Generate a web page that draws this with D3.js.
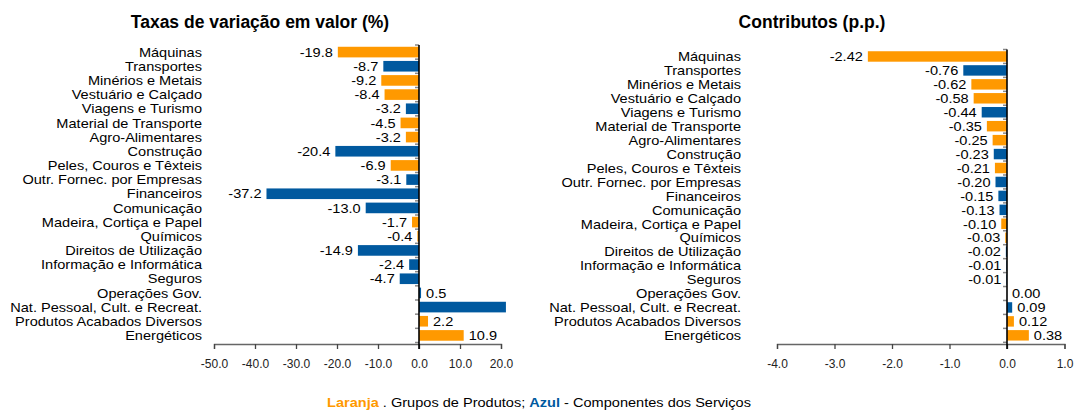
<!DOCTYPE html>
<html><head><meta charset="utf-8">
<script src="https://cdn.jsdelivr.net/npm/d3@7"></script>
<style>
html,body{margin:0;padding:0;background:#fff;}
svg{display:block;font-family:"Liberation Sans",Arial,sans-serif;}
</style></head>
<body>
<svg id="c" width="1075" height="411"></svg>
<script>
const categories = ["Máquinas","Transportes","Minérios e Metais","Vestuário e Calçado","Viagens e Turismo","Material de Transporte","Agro-Alimentares","Construção","Peles, Couros e Têxteis","Outr. Fornec. por Empresas","Financeiros","Comunicação","Madeira, Cortiça e Papel","Químicos","Direitos de Utilização","Informação e Informática","Seguros","Operações Gov.","Nat. Pessoal, Cult. e Recreat.","Produtos Acabados Diversos","Energéticos"];
// P = Grupos de Produtos (laranja), S = Componentes dos Serviços (azul)
const groupType = ["P","S","P","P","S","P","P","S","P","S","S","S","P","P","S","S","S","S","S","P","P"];
const taxasValues = [-19.8,-8.7,-9.2,-8.4,-3.2,-4.5,-3.2,-20.4,-6.9,-3.1,-37.2,-13.0,-1.7,-0.4,-14.9,-2.4,-4.7,0.5,21.2,2.2,10.9];
const contribValues = [-2.42,-0.76,-0.62,-0.58,-0.44,-0.35,-0.25,-0.23,-0.21,-0.20,-0.15,-0.13,-0.10,-0.03,-0.02,-0.01,-0.01,0.00,0.09,0.12,0.38];
const taxasTicks = [-50,-40,-30,-20,-10,0,10,20];
const contribTicks = [-4,-3,-2,-1,0,1];
const titles = ["Taxas de variação em valor (%)","Contributos (p.p.)"];

const ORANGE = "#FF9900", BLUE = "#00599F";
const svg = d3.select("#c");
const SX = 1.12;

function stretchedText(parent, x, y, txt, anchor, size, fill) {
  const g = parent.append("g").attr("transform", `translate(${x},${y}) scale(${SX},1)`);
  return g.append("text").attr("text-anchor", anchor).attr("dominant-baseline","central")
    .attr("font-size", size).attr("fill", fill).text(txt);
}

function drawChart(cfg) {
  const x = d3.scaleLinear().domain(cfg.domain).range(cfg.xRange);
  const y = d3.scaleBand().domain(categories).range(cfg.yRange).paddingInner(0.25).paddingOuter(0.125);
  const g = svg.append("g");
  const clipId = "clip" + cfg.id;
  svg.append("clipPath").attr("id", clipId).append("rect")
    .attr("x", cfg.xRange[0] - 200).attr("y", 0)
    .attr("width", cfg.xRange[1] + cfg.clipExtra - cfg.xRange[0] + 200).attr("height", 411);
  const plot = g.append("g").attr("clip-path", `url(#${clipId})`);

  plot.selectAll("rect.bar").data(cfg.values).join("rect")
    .attr("x", d => x(Math.min(0, d)))
    .attr("width", d => Math.abs(x(d) - x(0)))
    .attr("y", (d, i) => y(categories[i]))
    .attr("height", y.bandwidth())
    .attr("fill", (d, i) => groupType[i] === "P" ? ORANGE : BLUE);

  cfg.values.forEach((d, i) => {
    const cy = y(categories[i]) + y.bandwidth() / 2;
    const neg = d < 0;
    const px = neg ? x(d) - 5 : x(d) + 5;
    if (!neg && px + 10 > cfg.xRange[1] + cfg.clipExtra) return;
    stretchedText(plot, px, cy + 0.5, d.toFixed(cfg.dec), neg ? "end" : "start", 13, "#000");
  });

  categories.forEach((c, i) => {
    const cy = y(c) + y.bandwidth() / 2;
    stretchedText(g, cfg.labelX, cy + 0.5, c, "end", 13, "#000");
  });

  const step = y.step();
  const bounds = d3.range(categories.length + 1).map(k => cfg.yRange[0] + k * step);
  g.selectAll("line.ct").data(bounds).join("line")
    .attr("x1", x(0) - 4).attr("x2", x(0)).attr("y1", d => d).attr("y2", d => d)
    .attr("stroke", "#888").attr("stroke-width", 1.5);

  const axY = 344;
  const ax = g.append("g").attr("transform", `translate(0,${axY})`)
    .call(d3.axisBottom(x).tickValues(cfg.ticks).tickSize(5).tickPadding(10).tickFormat(d3.format(".1f")));
  ax.select(".domain").attr("stroke", "#666").attr("stroke-width", 1.3);
  ax.selectAll(".tick line").attr("stroke", "#444").attr("stroke-width", 1.3);
  ax.selectAll(".tick text").attr("font-size", 12).attr("fill", "#222")
    .attr("font-family", "\"Liberation Sans\",Arial,sans-serif")
    .text(d => d.toFixed(1).replace("-0.0","0.0"));

  g.append("line").attr("x1", x(0)).attr("x2", x(0))
    .attr("y1", cfg.yRange[0]).attr("y2", axY + 5)
    .attr("stroke", "#000").attr("stroke-width", 1.6);

  g.append("text").attr("x", cfg.titleX).attr("y", 28).attr("text-anchor", "middle")
    .attr("font-size", 17.5).attr("font-weight", "bold").attr("fill", "#000")
    .text(cfg.title);
}

drawChart({id: "L", domain: [-50, 20], xRange: [214, 501], yRange: [45, 342.5], values: taxasValues,
  ticks: taxasTicks, dec: 1, labelX: 202, title: titles[0], titleX: 260, clipExtra: 5});
drawChart({id: "R", domain: [-4, 1], xRange: [777, 1064.5], yRange: [49.5, 342.3], values: contribValues,
  ticks: contribTicks, dec: 2, labelX: 741, title: titles[1], titleX: 812, clipExtra: 15});

// legend
const legG = svg.append("g").attr("transform", `translate(539,407) scale(${SX},1)`);
const leg = legG.append("text").attr("x", 0).attr("y", 0).attr("text-anchor", "middle").attr("font-size", 13);
leg.append("tspan").attr("fill", ORANGE).attr("font-weight", "bold").text("Laranja");
leg.append("tspan").attr("fill", "#000").text(" . Grupos de Produtos; ");
leg.append("tspan").attr("fill", BLUE).attr("font-weight", "bold").text("Azul");
leg.append("tspan").attr("fill", "#000").text(" - Componentes dos Serviços");
</script>
</body></html>
